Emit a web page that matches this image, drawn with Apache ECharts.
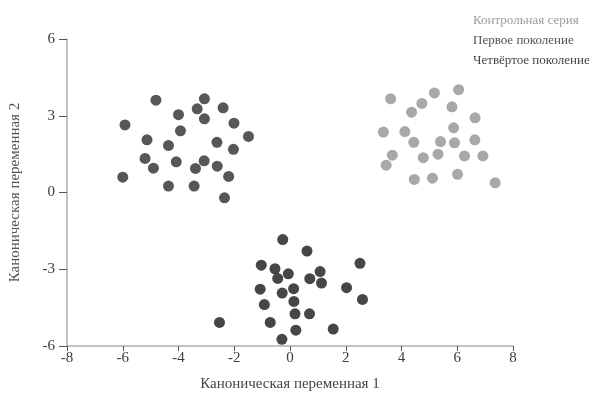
<!DOCTYPE html>
<html>
<head>
<meta charset="utf-8">
<script src="https://cdn.jsdelivr.net/npm/echarts@6/dist/echarts.min.js"></script>
<style>
  html, body { margin: 0; padding: 0; background: #fff; }
  #main { width: 591px; height: 400px; }
</style>
</head>
<body>
<div id="main"></div>
<script>
var seriesNames = ['Контрольная серия', 'Первое поколение', 'Четвёртое поколение'];
var seriesColors = ['#a8a8a8', '#575757', '#464646'];
var legendColors = ['#9c9c9c', '#555555', '#444444'];

// Контрольная серия
var controlPoints = [
    [3.61, 3.66], [5.18, 3.89], [6.05, 4.02], [4.73, 3.48], [4.36, 3.14], [5.81, 3.35],
    [6.64, 2.92], [3.35, 2.36], [4.12, 2.38], [5.87, 2.53], [4.44, 1.96], [5.40, 1.99],
    [5.90, 1.94], [6.63, 2.06], [3.67, 1.46], [4.78, 1.36], [5.31, 1.50], [6.26, 1.43],
    [6.92, 1.43], [3.45, 1.07], [4.46, 0.51], [5.11, 0.56], [6.01, 0.71], [7.36, 0.38]
];

// Первое поколение
var firstGenPoints = [
    [-4.81, 3.61], [-3.07, 3.66], [-3.33, 3.27], [-2.40, 3.31], [-4.00, 3.04], [-3.07, 2.88],
    [-5.92, 2.64], [-2.01, 2.71], [-3.93, 2.41], [-1.49, 2.19], [-5.13, 2.06], [-4.36, 1.84],
    [-2.62, 1.96], [-2.03, 1.69], [-5.20, 1.33], [-4.08, 1.20], [-3.08, 1.24], [-4.90, 0.95],
    [-3.39, 0.94], [-2.61, 1.03], [-6.00, 0.60], [-2.20, 0.63], [-4.36, 0.25], [-3.44, 0.25],
    [-2.35, -0.21]
];

// Четвёртое поколение
var fourthGenPoints = [
    [-0.26, -1.84], [0.61, -2.29], [-1.03, -2.84], [-0.54, -2.98], [-0.06, -3.18], [1.08, -3.09],
    [2.51, -2.77], [-0.44, -3.36], [0.71, -3.37], [1.13, -3.54], [-1.07, -3.78], [0.13, -3.76],
    [2.03, -3.72], [-0.28, -3.93], [2.60, -4.18], [-0.92, -4.38], [0.14, -4.26], [0.18, -4.74],
    [0.70, -4.74], [-2.53, -5.08], [-0.71, -5.08], [0.21, -5.38], [1.55, -5.34], [-0.29, -5.74]
];

var xTicks = [-8, 8, 2];   // min, max, interval
var yTicks = [-6, 6, 3];

var font = '"Liberation Serif", "DejaVu Serif", serif';
var allPoints = [controlPoints, firstGenPoints, fourthGenPoints];

var myChart = echarts.init(document.getElementById('main'));

var option = {
    animation: false,
    backgroundColor: '#fff',
    textStyle: { fontFamily: font },
    grid: { left: 66, right: 78, top: 39, bottom: 54 },
    legend: {
        orient: 'vertical',
        left: 463,
        top: 9,
        itemWidth: 0,
        itemHeight: 0,
        itemGap: 7,
        icon: 'none',
        selectedMode: false,
        data: seriesNames.map(function (n, i) {
            return { name: n, textStyle: { color: legendColors[i] } };
        }),
        textStyle: { fontFamily: font, fontSize: 13 }
    },
    xAxis: {
        type: 'value',
        min: xTicks[0], max: xTicks[1], interval: xTicks[2],
        name: 'Каноническая переменная 1',
        nameLocation: 'middle',
        nameGap: 31,
        nameTextStyle: { fontFamily: font, fontSize: 15, color: '#444' },
        axisLine: { onZero: false, lineStyle: { color: '#b0b0b0', width: 1.5 } },
        axisTick: { show: true, length: 5, lineStyle: { color: '#555' } },
        axisLabel: { fontFamily: font, fontSize: 15, color: '#3c3c3c', margin: 5 },
        splitLine: { show: false }
    },
    yAxis: {
        type: 'value',
        min: yTicks[0], max: yTicks[1], interval: yTicks[2],
        name: 'Каноническая переменная 2',
        nameLocation: 'middle',
        nameGap: 44,
        nameTextStyle: { fontFamily: font, fontSize: 15, color: '#555' },
        axisLine: { show: true, onZero: false, lineStyle: { color: '#b0b0b0', width: 1.5 } },
        axisTick: { show: true, length: 8, lineStyle: { color: '#555' } },
        axisLabel: { fontFamily: font, fontSize: 15, color: '#3c3c3c', margin: 12 },
        splitLine: { show: false }
    },
    series: seriesNames.map(function (n, i) {
        return {
            name: n,
            type: 'scatter',
            symbolSize: 11,
            itemStyle: { color: seriesColors[i], opacity: 1 },
            data: allPoints[i]
        };
    })
};

myChart.setOption(option);
</script>
</body>
</html>
